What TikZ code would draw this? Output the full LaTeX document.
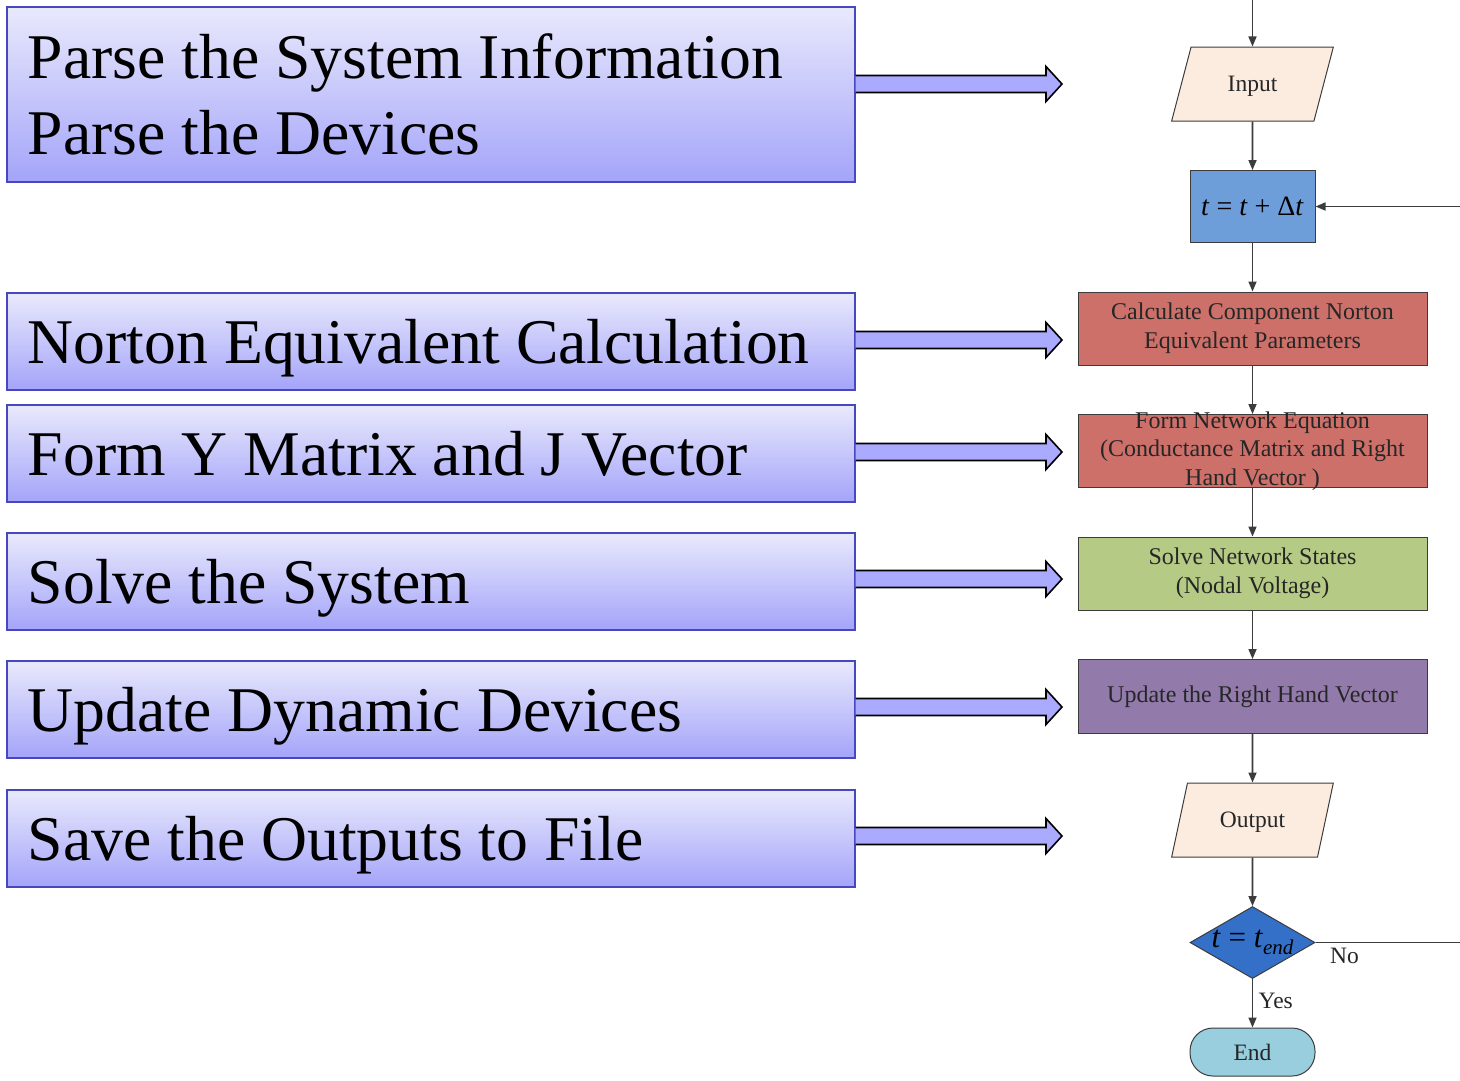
\documentclass[tikz,border=0pt]{standalone}
\usepackage{fontspec}
\setmainfont{Liberation Serif}
\usetikzlibrary{positioning,shapes.geometric,arrows.meta,calc}
\definecolor{stepEdge}{RGB}{72,72,190}
\definecolor{stepTop}{RGB}{233,233,252}
\definecolor{stepBot}{RGB}{164,164,250}
\definecolor{fatFill}{RGB}{170,170,255}
\definecolor{ioFill}{RGB}{252,236,224}
\definecolor{timeFill}{RGB}{110,158,218}
\definecolor{calcFill}{RGB}{206,112,106}
\definecolor{solveFill}{RGB}{181,202,132}
\definecolor{updFill}{RGB}{146,122,170}
\definecolor{testFill}{RGB}{52,112,200}
\definecolor{endFill}{RGB}{152,206,222}
\definecolor{flowLine}{RGB}{60,60,60}
\tikzset{
  stepbox/.style={rectangle,draw=stepEdge,line width=1.5pt,
    top color=stepTop,bottom color=stepBot,anchor=north west,
    minimum width=848pt,minimum height=#1,text width=806pt,
    inner xsep=21pt,inner ysep=0pt,align=flush left,text depth=0pt,
    font=\fontsize{63.7}{76}\selectfont},
  stepbox/.default=97pt,
  fatarrow/.style={draw=black,line width=1.6pt,fill=fatFill,line join=miter},
  fbox/.style={rectangle,draw=flowLine,line width=1pt,fill=#1,
    minimum width=349pt,minimum height=73pt,inner sep=0pt,
    text=black!85,font=\fontsize{24}{29}\selectfont,align=center},
  iobox/.style={trapezium,trapezium left angle=63,trapezium right angle=117,
    trapezium stretches=true,
    draw=flowLine,line width=1pt,fill=ioFill,minimum width=162pt,
    minimum height=74pt,inner sep=0pt,text=black!85,text depth=0pt,
    font=\fontsize{23.5}{29}\selectfont},
  smallbox/.style={rectangle,draw=flowLine,line width=1pt,fill=#1,
    minimum width=125pt,minimum height=72pt,inner sep=0pt},
  decision/.style={diamond,draw=flowLine,line width=1pt,fill=testFill,
    minimum width=125pt,minimum height=72pt,inner sep=0pt},
  txt/.style={align=center,text=black!85,font=\fontsize{24}{28.5}\selectfont},
  flow/.style={-{Triangle[length=10pt,width=8pt]},draw=flowLine,line width=1.6pt},
  note/.style={font=\fontsize{23.5}{29}\selectfont,text=black!85}
}
\newcommand{\fatarrow}[2]{%
  \draw[fatarrow] ($(#1.east |- #2)+(0,-8.5)$) -- ($(#2)+(-16,-8.5)$)
    -- ($(#2)+(-16,-17.5)$) -- (#2) -- ($(#2)+(-16,17.5)$)
    -- ($(#2)+(-16,8.5)$) -- ($(#1.east |- #2)+(0,8.5)$);}

\begin{document}
\begin{tikzpicture}[x=1pt,y=-1pt,node distance=48.5pt]
  \useasboundingbox (0,0) rectangle (1460,1080);
  % stages of the program
  \node[stepbox=175pt, text depth={}] (parse) at (6,6)
    {Parse the System Information\\Parse the Devices};
  \node[stepbox] (norton) at (6,292) {Norton Equivalent Calculation};
  \node[stepbox] (form) at (6,404) {Form Y Matrix and J Vector};
  \node[stepbox] (solve) at (6,532) {Solve the System};
  \node[stepbox] (update) at (6,660) {Update Dynamic Devices};
  \node[stepbox] (save) at (6,789) {Save the Outputs to File};

  % flow chart
  \coordinate (start) at (1252.5,0);
  \coordinate (edge) at (1460,0);
  \node[iobox] (input) at (1252.5,84) {Input};
  \node[smallbox=timeFill, below=of input] (tstep)
    {\fontsize{28}{30}\selectfont\textit{t} = \textit{t} + Δ\textit{t}};
  \node[fbox=calcFill, below=of tstep] (calc)
    {Calculate Component Norton\\Equivalent Parameters};
  \node[fbox=calcFill, below=of calc, label={[txt]center:{Form Network Equation\\(Conductance Matrix and Right\\Hand Vector )}}] (neteq) {};
  \node[fbox=solveFill, below=of neteq] (states)
    {Solve Network States\\(Nodal Voltage)};
  \node[fbox=updFill, minimum height=74pt, below=of states] (rhs)
    {Update the Right Hand Vector};
  \node[iobox, below=of rhs] (output) {Output};
  \node[decision, below=of output,
    label={[font=\fontsize{31}{31}\selectfont,text=black]center:{\textit{t} = \textit{t}\raisebox{-7pt}{\fontsize{21}{21}\selectfont\textit{end}}}}] (test) {};
  \node[smallbox=endFill, minimum height=48pt, rounded corners=23pt,
    below=of test, note] (stop) {End};
  \coordinate (back) at (tstep.east -| edge);
  \coordinate (noend) at (test.east -| edge);

  \draw[flow] (start) -- (input);
  \draw[flow] (input) -- (tstep);
  \draw[flow] (tstep) -- (calc);
  \draw[flow] (calc) -- (neteq);
  \draw[flow] (neteq) -- (states);
  \draw[flow] (states) -- (rhs);
  \draw[flow] (rhs) -- (output);
  \draw[flow] (output) -- (test);
  \draw[flow] (test) -- node[note, right=2pt, pos=0.45] {Yes} (stop);
  \draw[flow] (back) -- (tstep);
  \draw[draw=flowLine,line width=1.6pt] (test.east) -- node[note, below=1pt, pos=0.2] {No} (noend);

  % links between stages and chart
  \coordinate (a1) at (1062,84);
  \coordinate (a2) at (1062,340);
  \coordinate (a3) at (1062,452);
  \coordinate (a4) at (1062,579);
  \coordinate (a5) at (1062,707);
  \coordinate (a6) at (1062,836);
  \fatarrow{parse}{a1}
  \fatarrow{norton}{a2}
  \fatarrow{form}{a3}
  \fatarrow{solve}{a4}
  \fatarrow{update}{a5}
  \fatarrow{save}{a6}
\end{tikzpicture}
\end{document}
